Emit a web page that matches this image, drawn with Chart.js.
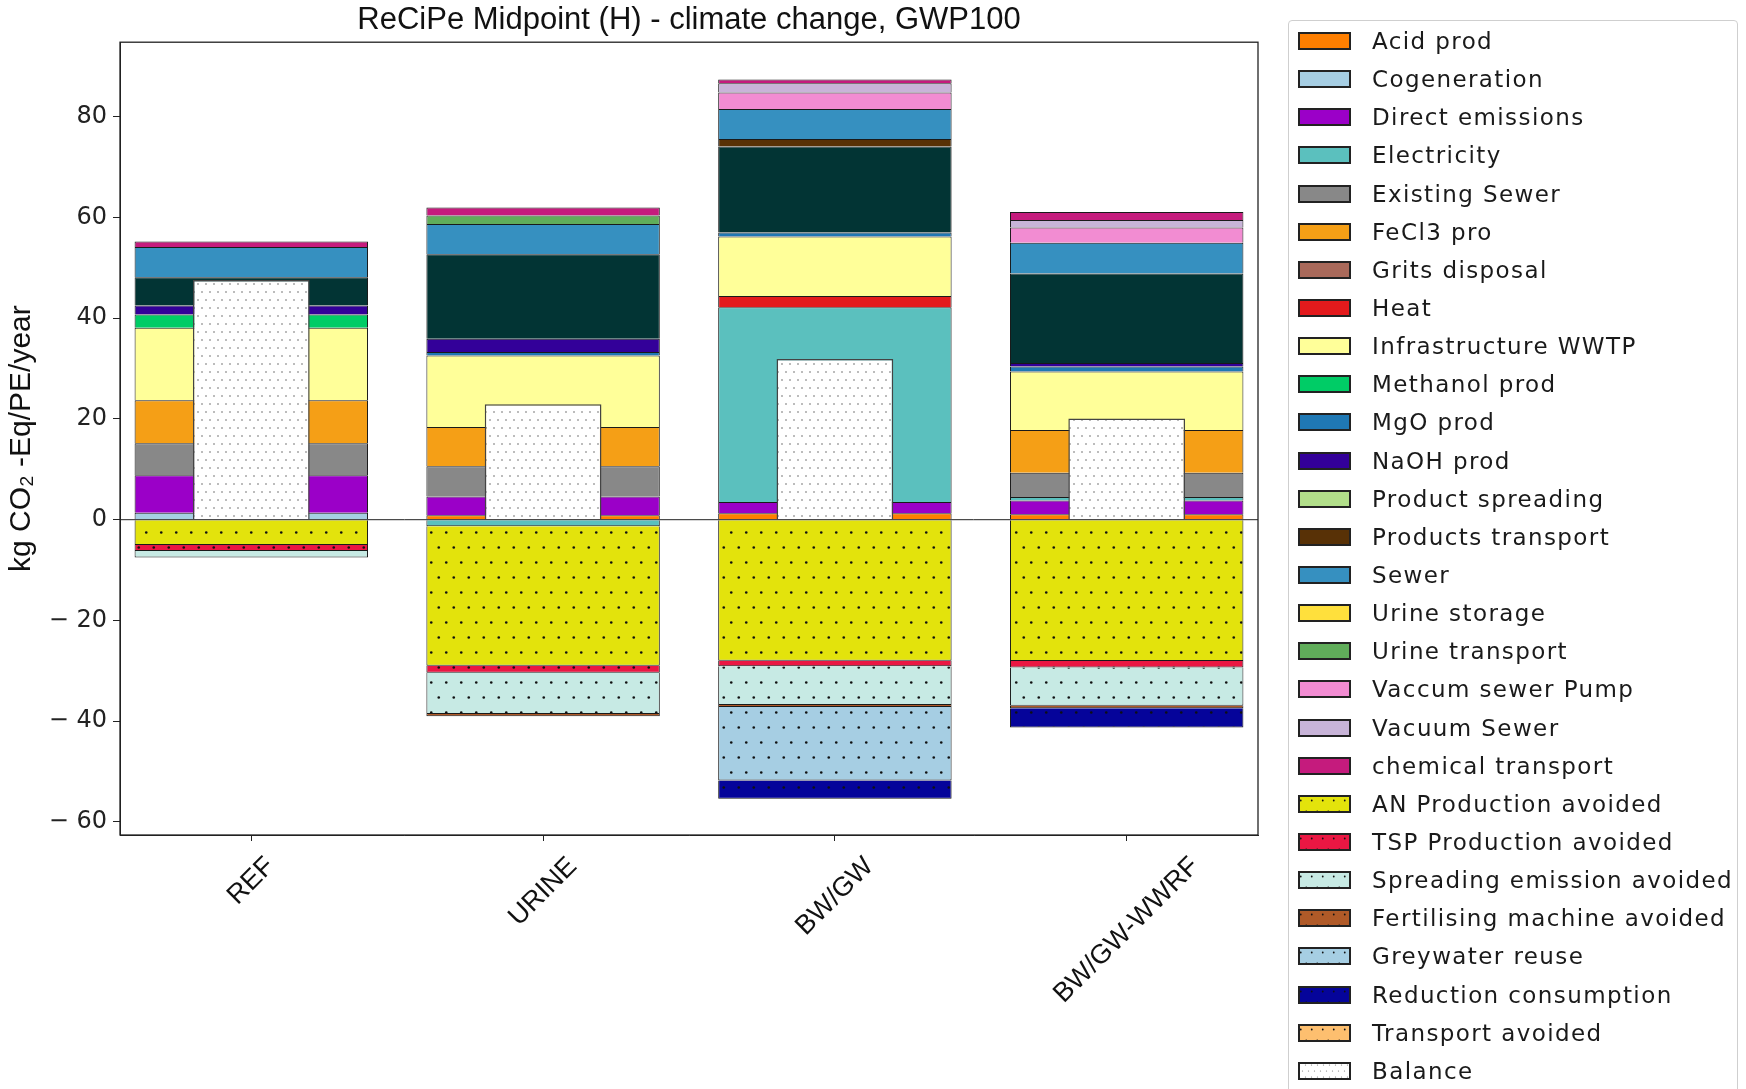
<!DOCTYPE html>
<html lang="en">
<head>
  <meta charset="UTF-8" />
  <title>ReCiPe Midpoint (H) - climate change, GWP100</title>
  <style>
    body {
      margin: 0;
      width: 1746px;
      height: 1089px;
      overflow: hidden;
      background: #fff;
    }
    #chart {
      position: absolute;
      left: 0;
      top: 0;
    }
    #legend {
      position: absolute;
      left: 1288px;
      top: 20px;
      width: 450px;
      height: 1085px;
      border: 1px solid #cfcfcf;
      border-radius: 4px;
      box-sizing: border-box;
      padding-top: 1px;
      font-family: 'DejaVu Sans', sans-serif;
      font-size: 23px;
      letter-spacing: 1.4px;
      color: #1a1a1a;
    }
    .row {
      height: 38.15px;
      display: flex;
      align-items: center;
      white-space: nowrap;
    }
    .row canvas {
      margin-left: 9px;
      margin-right: 21px;
    }
  </style>
</head>
<body>
  <canvas id="chart" width="1280" height="1089"></canvas>
  <div id="legend"></div>

  <script src="https://cdn.jsdelivr.net/npm/chart.js"></script>
  <script>
    // scenarios
    const categories = ['REF', 'URINE', 'BW/GW', 'BW/GW-WWRF'];

    // kg CO2-Eq/PE/year per scenario
    const acidProd           = [0, 0.9, 1.3, 1.1];
    const cogeneration       = [1.4, 0, 0, 0];
    const directEmissions    = [7.4, 3.7, 2.2, 2.7];
    const electricity        = [0, -1.3, 38.7, 0.7];
    const existingSewer      = [6.4, 6.0, 0, 4.8];
    const fecl3Pro           = [8.5, 7.8, 0, 8.5];
    const gritsDisposal      = [0, 0, 0, 0];
    const heat               = [0, 0, 2.2, 0];
    const infrastructureWwtp = [14.4, 14.2, 11.8, 11.6];
    const methanolProd       = [2.65, 0, 0, 0];
    const mgoProd            = [0, 0.7, 0.8, 1.0];
    const naohProd           = [1.8, 2.6, 0, 0.7];
    const productSpreading   = [5.6, 16.8, 17.1, 17.8];
    const productsTransport  = [0, 0, 1.5, 0];
    const sewer              = [6.0, 6.0, 5.95, 6.1];
    const urineStorage       = [0, 0, 0, 0];
    const urineTransport     = [0, 1.7, 0, 0];
    const vaccumSewerPump    = [0, 0, 3.25, 3.0];
    const vacuumSewer        = [0, 0, 1.85, 1.5];
    const chemicalTransport  = [1.1, 1.6, 0.75, 1.6];
    const anAvoided          = [-5.0, -27.7, -28.0, -28.05];
    const tspAvoided         = [-1.2, -1.4, -1.1, -1.3];
    const spreadingAvoided   = [-1.3, -8.2, -7.7, -7.6];
    const fertilisingAvoided = [0, -0.4, -0.4, -0.5];
    const greywaterReuse     = [0, 0, -14.6, 0];
    const reductionConsump   = [0, 0, -3.6, -3.8];
    const transportAvoided   = [0, 0, 0, 0];
    const balance            = [47.6, 22.9, 31.9, 20.1];

    const yTicks = [-60, -40, -20, 0, 20, 40, 60, 80];

    const names = ['Acid prod', 'Cogeneration', 'Direct emissions', 'Electricity', 'Existing Sewer',
      'FeCl3 pro', 'Grits disposal', 'Heat', 'Infrastructure WWTP', 'Methanol prod', 'MgO prod',
      'NaOH prod', 'Product spreading', 'Products transport', 'Sewer', 'Urine storage',
      'Urine transport', 'Vaccum sewer Pump', 'Vacuum Sewer', 'chemical transport',
      'AN Production avoided', 'TSP Production avoided', 'Spreading  emission avoided',
      'Fertilising machine avoided', 'Greywater reuse', 'Reduction consumption', 'Transport avoided'];
    const series = [acidProd, cogeneration, directEmissions, electricity, existingSewer, fecl3Pro,
      gritsDisposal, heat, infrastructureWwtp, methanolProd, mgoProd, naohProd, productSpreading,
      productsTransport, sewer, urineStorage, urineTransport, vaccumSewerPump, vacuumSewer,
      chemicalTransport, anAvoided, tspAvoided, spreadingAvoided, fertilisingAvoided,
      greywaterReuse, reductionConsump, transportAvoided];

    const legendColors = ['#ff7f00', '#a6cee3', '#9b00c8', '#5bc0be', '#888888', '#f59f16', '#a9695a',
      '#e31a1c', '#ffff99', '#00cc66', '#1f78b4', '#330099', '#b2df8a', '#583106', '#3690c0',
      '#ffe03c', '#60ad5a', '#f28cd2', '#c8b4d8', '#c51b7d', '#e3e30c', '#ea1743', '#c7eae4',
      '#b05a28', '#a6cee3', '#05049a', '#fdbf6f'];
    // in the plot itself the "Product spreading" layer is drawn dark teal
    const barColors = legendColors.slice();
    barColors[12] = '#023434';
    const firstAvoided = 20;

    function dotPattern(bg, dot, step, r) {
      const c = document.createElement('canvas');
      c.width = step; c.height = step * 2;
      const g = c.getContext('2d');
      g.fillStyle = bg;
      g.fillRect(0, 0, c.width, c.height);
      g.fillStyle = dot;
      [[step / 4, step / 2], [step * 3 / 4, step * 1.5]].forEach(([x, y]) => {
        g.beginPath(); g.arc(x, y, r, 0, Math.PI * 2); g.fill();
      });
      return g.createPattern(c, 'repeat');
    }

    const datasets = series.map((vals, k) => ({
      label: names[k],
      data: vals.map((v, i) => ({ x: i, y: v })),
      backgroundColor: k >= firstAvoided ? dotPattern(barColors[k], '#111', 15, 1.3) : barColors[k],
      borderColor: '#1a1a1a',
      borderWidth: 1,
      stack: 'main',
      categoryPercentage: 0.8,
      barPercentage: 1
    }));
    datasets.push({
      label: 'Balance',
      data: balance.map((v, i) => ({ x: i, y: v })),
      backgroundColor: dotPattern('#ffffff', '#666', 8, 0.8),
      borderColor: '#444',
      borderWidth: 1.5,
      stack: 'bal',
      grouped: false,
      order: -1,
      categoryPercentage: 0.8,
      barPercentage: 0.5
    });

    // frame, zero line and centred rotated category labels
    const framePlugin = {
      id: 'frame',
      afterDatasetsDraw(chart) {
        const { ctx, chartArea: a, scales } = chart;
        const y0 = scales.y.getPixelForValue(0);
        ctx.save();
        ctx.strokeStyle = '#222';
        ctx.lineWidth = 1;
        ctx.beginPath();
        ctx.moveTo(a.left, y0); ctx.lineTo(a.right, y0);
        ctx.stroke();
        ctx.lineWidth = 1.3;
        ctx.strokeRect(a.left, a.top, a.right - a.left, a.bottom - a.top);
        ctx.restore();
      },
      afterDraw(chart) {
        const { ctx, chartArea: a, scales } = chart;
        const size = 27;
        ctx.save();
        ctx.font = size + 'px "Liberation Sans", Arial, sans-serif';
        ctx.fillStyle = '#111';
        ctx.textAlign = 'center';
        ctx.textBaseline = 'middle';
        categories.forEach((c, i) => {
          const x = scales.x.getPixelForValue(i);
          const w = ctx.measureText(c).width;
          const half = (w + size * 0.75) * Math.SQRT1_2 / 2;
          ctx.save();
          ctx.translate(x, a.bottom + 20 + half);
          ctx.rotate(-Math.PI / 4);
          ctx.fillText(c, 0, 0);
          ctx.restore();
        });
        ctx.restore();
      }
    };

    const ctx = document.getElementById('chart').getContext('2d');
    const chart = new Chart(ctx, {
      type: 'bar',
      data: { datasets },
      plugins: [framePlugin],
      options: {
        responsive: false,
        animation: false,
        devicePixelRatio: 1,
        layout: { padding: { right: 22 } },
        plugins: {
          legend: { display: false },
          tooltip: { enabled: false },
          title: {
            display: true,
            fullSize: false,
            text: 'ReCiPe Midpoint (H) - climate change, GWP100',
            color: '#111',
            font: { family: '"Liberation Sans Narrow", "Liberation Sans", sans-serif', size: 31, weight: 'normal', lineHeight: 1.2 },
            padding: { top: 2, bottom: 3 }
          }
        },
        scales: {
          x: {
            type: 'linear',
            min: -0.45,
            max: 3.45,
            offset: false,
            afterFit: s => { s.height = 254; },
            ticks: { stepSize: 1, includeBounds: false, display: false },
            grid: { offset: false, drawOnChartArea: false, drawTicks: true, tickLength: 6, tickColor: '#222' },
            border: { display: true, color: '#222' }
          },
          y: {
            stacked: true,
            min: -62.6,
            max: 94.8,
            afterFit: s => { s.width = 120; },
            afterBuildTicks: s => { s.ticks = yTicks.map(v => ({ value: v })); },
            ticks: {
              color: '#222',
              padding: 6,
              font: { family: '"DejaVu Sans", sans-serif', size: 24 },
              callback: v => v < 0 ? '\u2212 ' + Math.abs(v) : String(v)
            },
            grid: { drawOnChartArea: false, drawTicks: true, tickLength: 7, tickColor: '#222' },
            border: { display: true, color: '#222' },
            title: {
              display: true,
              text: 'kg CO\u2082 -Eq/PE/year',
              color: '#111',
              font: { family: '"Liberation Sans Narrow", "Liberation Sans", sans-serif', size: 30, lineHeight: 1.2 },
              padding: { top: 4, bottom: 0 }
            }
          }
        }
      }
    });

    // legend box on the right
    const legend = document.getElementById('legend');
    names.concat(['Balance']).forEach((n, k) => {
      const row = document.createElement('div');
      row.className = 'row';
      const sw = document.createElement('canvas');
      sw.width = 53; sw.height = 18;
      const g = sw.getContext('2d');
      if (k === names.length) g.fillStyle = dotPattern('#ffffff', '#777', 6, 0.6);
      else if (k >= firstAvoided) g.fillStyle = dotPattern(legendColors[k], '#111', 11, 0.9);
      else g.fillStyle = legendColors[k];
      g.fillRect(0, 0, 53, 18);
      g.strokeStyle = '#222';
      g.lineWidth = 2;
      g.strokeRect(1, 1, 51, 16);
      const label = document.createElement('span');
      label.textContent = n;
      row.appendChild(sw);
      row.appendChild(label);
      legend.appendChild(row);
    });
  </script>
</body>
</html>
